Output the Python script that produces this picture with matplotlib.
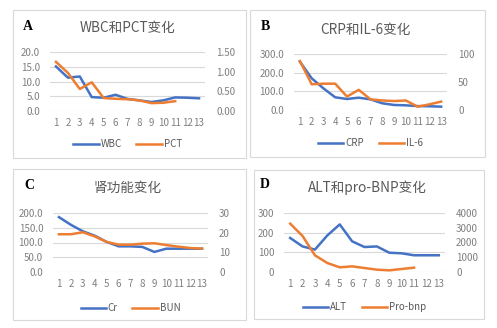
import matplotlib
matplotlib.use("Agg")
import matplotlib.pyplot as plt
from matplotlib.patches import Rectangle
from matplotlib.lines import Line2D

plt.rcParams['font.family'] = ['Noto Sans CJK SC', 'DejaVu Sans']

W, H = 497, 328
days = list(range(1, 14))

wbc = [15.1, 11.3, 11.7, 4.7, 4.5, 5.5, 4.1, 3.6, 3.05, 3.6, 4.6, 4.5, 4.3]
pct = [1.25, 0.97, 0.56, 0.73, 0.33, 0.31, 0.30, 0.27, 0.20, 0.21, 0.25]
crp = [259, 170, 116, 68, 59, 66, 57, 36, 27, 25, 21, 20, 18]
il6 = [87.5, 46, 47, 47, 24, 36, 19, 17, 16, 17, 6, 10, 15]
cr = [186, 160, 138, 123, 102, 87, 87, 85, 68, 79, 79, 79, 79]
bun = [19.2, 19.2, 20.2, 18.1, 15.3, 13.9, 13.9, 14.4, 14.6, 13.7, 12.9, 12.2, 11.9]
alt = [173, 130, 114, 186, 242, 156, 127, 130, 98, 95, 85, 85, 85]
probnp = [3277, 2440, 1130, 610, 316, 384, 271, 158, 113, 203, 294]

BLUE = '#4472C4'
ORANGE = '#ED7D31'
GRID = '#D9D9D9'
TXT = '#595959'
TICK = '#7F7F7F'

fig = plt.figure(figsize=(W / 100, H / 100), dpi=100)
fig.patch.set_facecolor('white')


def fx(x):
    return x / W


def fy(y):
    return 1 - y / H


panels = [
    dict(box=(13, 10, 246, 158), plot=(50, 52, 205, 111), letter='A', lpos=(28, 26),
         title='WBC和PCT变化', tpos=(128, 28),
         l=wbc, r=pct, ln='WBC', rn='PCT',
         lticks=[0, 5, 10, 15, 20], lfmt='{:.1f}', rticks=[0, 0.5, 1.0, 1.5], rfmt='{:.2f}',
         xlab=123, leg=144),
    dict(box=(250, 10, 485, 157), plot=(294, 54, 447, 110), letter='B', lpos=(265, 27),
         title='CRP和IL-6变化', tpos=(365, 30),
         l=crp, r=il6, ln='CRP', rn='IL-6',
         lticks=[0, 100, 200, 300], lfmt='{:.1f}', rticks=[0, 50, 100], rfmt='{:.0f}',
         xlab=121, leg=143),
    dict(box=(13, 169, 246, 320), plot=(53, 213, 208, 272), letter='C', lpos=(29, 186),
         title='肾功能变化', tpos=(128, 188),
         l=cr, r=bun, ln='Cr', rn='BUN',
         lticks=[0, 50, 100, 150, 200], lfmt='{:.1f}', rticks=[0, 10, 20, 30], rfmt='{:.0f}',
         xlab=283, leg=308),
    dict(box=(254, 170, 484, 319), plot=(284, 213, 445, 272), letter='D', lpos=(265, 184),
         title='ALT和pro-BNP变化', tpos=(367, 188),
         l=alt, r=probnp, ln='ALT', rn='Pro-bnp',
         lticks=[0, 100, 200, 300], lfmt='{:.0f}', rticks=[0, 1000, 2000, 3000, 4000], rfmt='{:.0f}',
         xlab=283, leg=307),
]

for p in panels:
    bx0, by0, bx1, by1 = p['box']
    fig.add_artist(Rectangle((fx(bx0), fy(by1)), fx(bx1 - bx0), (by1 - by0) / H,
                             transform=fig.transFigure, fill=False, edgecolor=GRID, lw=0.8))
    x0, y0, x1, y1 = p['plot']
    ax = fig.add_axes([fx(x0), fy(y1), fx(x1 - x0), (y1 - y0) / H])
    ax2 = ax.twinx()
    ax.set_zorder(ax2.get_zorder() + 1)
    ax.patch.set_visible(False)
    for a in (ax, ax2):
        for s in a.spines.values():
            s.set_visible(False)
    ax.set_xlim(0.5, 13.5)
    ax.set_ylim(p['lticks'][0], p['lticks'][-1])
    ax2.set_ylim(p['rticks'][0], p['rticks'][-1])
    ax.set_yticks(p['lticks'])
    ax.set_yticklabels([p['lfmt'].format(v) for v in p['lticks']])
    ax2.set_yticks(p['rticks'])
    ax2.set_yticklabels([p['rfmt'].format(v) for v in p['rticks']])
    ax.set_xticks(days)
    ax.set_xticklabels([str(d) for d in days])
    ax.grid(axis='y', color=GRID, lw=0.8)
    ax.set_axisbelow(True)
    ax.tick_params(axis='both', length=0, labelsize=7, labelcolor=TICK, pad=7)
    ax2.tick_params(axis='y', length=0, labelsize=7, labelcolor=TICK, pad=8)
    ax.tick_params(axis='x', pad=5)
    ax.plot(days[:len(p['l'])], p['l'], color=BLUE, lw=1.8, solid_joinstyle='round')
    ax.plot(days[:len(p['r'])],
            [v / p['rticks'][-1] * p['lticks'][-1] for v in p['r']],
            color=ORANGE, lw=1.8, solid_joinstyle='round')
    fig.text(fx(p['tpos'][0]), fy(p['tpos'][1]), p['title'], ha='center', va='center',
             fontsize=9.8, color=TXT)
    fig.text(fx(p['lpos'][0]), fy(p['lpos'][1]), p['letter'], ha='center', va='center',
             fontsize=10, fontweight='bold', family='Liberation Serif', color='black')
    cx = (x0 + x1) / 2
    fig.legend([Line2D([], [], color=BLUE, lw=1.8), Line2D([], [], color=ORANGE, lw=1.8)],
               [p['ln'], p['rn']], loc='center', bbox_to_anchor=(fx(cx), fy(p['leg'])),
               ncol=2, frameon=False, fontsize=7, labelcolor=TXT, handlelength=2.6,
               handletextpad=0.2, columnspacing=1.5, borderpad=0)

fig.savefig('out.png', dpi=100, facecolor='white')
